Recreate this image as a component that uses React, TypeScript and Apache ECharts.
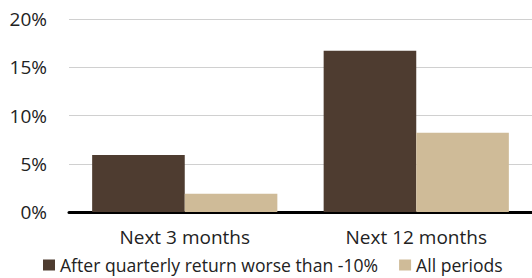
import React, { useEffect, useRef } from "react";
import * as echarts from "echarts";

const categories = ["Next 3 months", "Next 12 months"];
const afterBadQuarter = [5.9, 16.7];
const allPeriods = [1.9, 8.2];
const seriesNames = ["After quarterly return worse than -10%", "All periods"];

export default function App() {
  const ref = useRef<HTMLDivElement>(null);
  useEffect(() => {
    const chart = echarts.init(ref.current!, null, { renderer: "svg" });
    const font = "Open Sans";
    chart.setOption({
      animation: false,
      textStyle: { fontFamily: font },
      grid: { left: 69, right: 0, top: 19, bottom: 66 },
      legend: {
        left: 43,
        top: 255,
        padding: 0,
        itemWidth: 12,
        itemHeight: 11,
        itemGap: 21,
        icon: "rect",
        textStyle: { fontSize: 17.6, lineHeight: 20, color: "#222", fontFamily: font },
        data: seriesNames,
      },
      xAxis: {
        type: "category",
        data: categories,
        axisLine: { lineStyle: { color: "#000", width: 3 } },
        axisTick: { show: false },
        axisLabel: { fontSize: 19, lineHeight: 20, color: "#222", margin: 15, fontFamily: font },
      },
      yAxis: {
        type: "value",
        min: 0,
        max: 20,
        interval: 5,
        axisLabel: { formatter: "{value}%", fontSize: 19, color: "#222", margin: 22, fontFamily: font },
        splitLine: { lineStyle: { color: "#d0d0d0", width: 1 } },
        axisLine: { show: false },
        axisTick: { show: false },
      },
      series: [
        {
          name: seriesNames[0],
          type: "bar",
          data: afterBadQuarter,
          barGap: "0%",
          barCategoryGap: "20%",
          itemStyle: { color: "#4e3c30" },
        },
        {
          name: seriesNames[1],
          type: "bar",
          data: allPeriods,
          barGap: "0%",
          barCategoryGap: "20%",
          itemStyle: { color: "#cfbb98" },
        },
      ],
    });
    return () => chart.dispose();
  }, []);
  return (
    <div
      ref={ref}
      style={{ position: "absolute", left: 0, top: 0, width: 532, height: 278, background: "#fff" }}
    />
  );
}
